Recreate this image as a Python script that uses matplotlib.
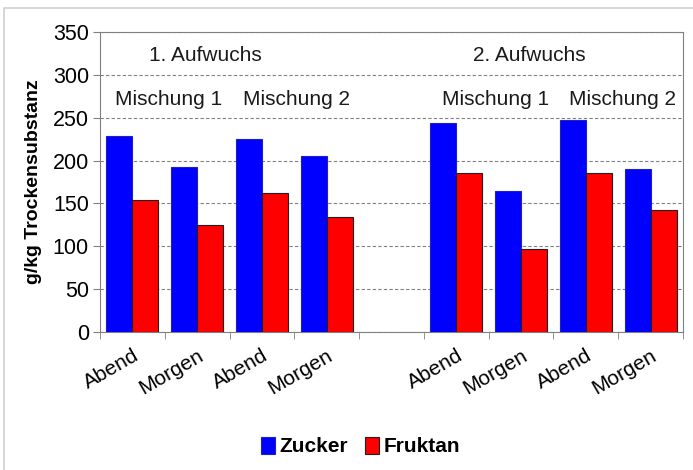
import numpy as np
import matplotlib.pyplot as plt
from matplotlib.lines import Line2D

plt.rcParams['font.family'] = ['Liberation Sans', 'DejaVu Sans']

# data (slot 4 is the empty gap)
labels = ["Abend", "Morgen", "Abend", "Morgen", "", "Abend", "Morgen", "Abend", "Morgen"]
zucker = [229, 193, 225, 205, np.nan, 244, 164, 247, 190]
fruktan = [154, 125, 162, 134, np.nan, 185, 97, 185, 142]

x = np.arange(len(labels))
w = 0.4

fig = plt.figure(figsize=(6.93, 4.70), dpi=100)
# light frame only on top and left, like the cropped original
fig.add_artist(Line2D([0.006, 0.006, 1.0], [0.0, 0.983, 0.983], color="#d0d0d0", linewidth=1.2))
ax = fig.add_axes([0.1443, 0.2936, 0.8413, 0.6383])

ax.bar(x - w/2, zucker, w, color="#0000ff", edgecolor="#2020c0", linewidth=0.8, label="Zucker", zorder=3)
ax.bar(x + w/2, fruktan, w, color="#ff0000", edgecolor="#202020", linewidth=0.8, label="Fruktan", zorder=3)

ax.set_xlim(-0.5, len(labels) - 0.5)
ax.set_ylim(0, 350)
ax.set_yticks(np.arange(0, 351, 50))
ax.yaxis.grid(True, linestyle=(0, (3, 2)), color="#808080", linewidth=0.8, zorder=0)
ax.tick_params(axis="y", labelsize=15.5, direction="out", length=5, color="#808080", pad=3)

ax.set_xticks(x)
ax.set_xticklabels(labels, rotation=30, ha="right", fontsize=15, rotation_mode="anchor")
ax.tick_params(axis="x", length=0, pad=10)
ax.set_xticks(np.arange(-0.5, len(labels)), minor=True)
ax.tick_params(axis="x", which="minor", length=5, color="#808080")

for s in ax.spines.values():
    s.set_color("#808080")

ax.set_ylabel("g/kg Trockensubstanz", fontsize=14, fontweight="bold", labelpad=8)

ax.text(1.12, 323, "1. Aufwuchs", ha="center", va="center", fontsize=15, color="#1a1a1a")
ax.text(6.12, 323, "2. Aufwuchs", ha="center", va="center", fontsize=15, color="#1a1a1a")
ax.text(0.56, 271, "Mischung 1", ha="center", va="center", fontsize=15, color="#1a1a1a")
ax.text(2.54, 271, "Mischung 2", ha="center", va="center", fontsize=15, color="#1a1a1a")
ax.text(5.6, 271, "Mischung 1", ha="center", va="center", fontsize=15, color="#1a1a1a")
ax.text(7.57, 271, "Mischung 2", ha="center", va="center", fontsize=15, color="#1a1a1a")

fig.legend(loc="center", bbox_to_anchor=(0.52, 0.05), ncol=2, frameon=False,
           prop={"weight": "bold", "size": 15}, handlelength=0.7, handleheight=0.9,
           handletextpad=0.2, columnspacing=0.8)

fig.savefig("out.png", dpi=100)
